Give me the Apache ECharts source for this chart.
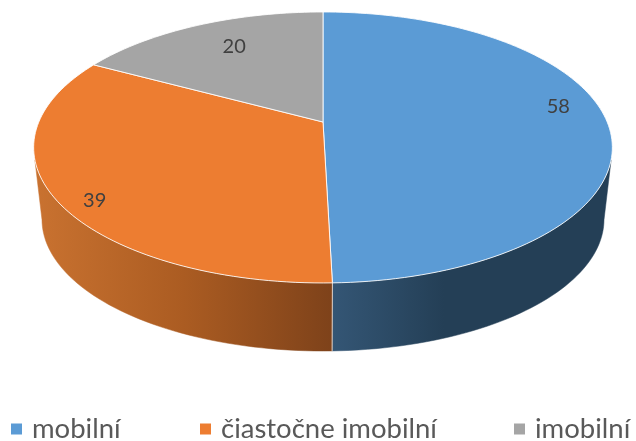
<!DOCTYPE html>
<html>
<head>
<meta charset="utf-8">
<style>html,body{margin:0;padding:0;background:#fff}#c{width:636px;height:441px}</style>
<script src="https://cdn.jsdelivr.net/npm/echarts@6/dist/echarts.min.js"></script>
</head>
<body>
<div id="c"></div>
<script>
const categories = ['mobilní', 'čiastočne imobilní', 'imobilní'];
const values = [58, 39, 20];
const colors = ['#5B9BD5', '#ED7D31', '#A5A5A5'];

// Projection of the tilted disc (perspective), and label placement
const FONT = 'Lato, "Open Sans", sans-serif';
const CX = 323, K = 0.188;
const TOP = { cy: 122, a: 284.2, b: 130.7 };
const BOTTOM = { cy: 194.6, a: 276, b: 127 };
const VISIBLE_TOP = [106, 254], VISIBLE_BOTTOM = [101, 259];
const LABEL_R = [0.83, 0.85, 0.71], LABEL_DY = [-14, 14, -7];
const SIDE_FILLS = [
  { x: 332, x2: 612, stops: [[0, '#345675'], [0.4, '#243F56'], [1, '#243F56']] },
  { x: 35, x2: 332, stops: [[0, '#C97230'], [0.5, '#AB5C22'], [1, '#7E421A']] },
  null
];

const total = values.reduce((s, v) => s + v, 0);
const rad = d => d * Math.PI / 180;
function project(deg, ring) {
  const u = Math.sin(rad(deg)), v = Math.cos(rad(deg)), w = 1 + K * v;
  return [CX + ring.a * u / w, ring.cy - ring.b * v / w];
}
function arc(from, to, ring) {
  const n = Math.max(2, Math.ceil(Math.abs(to - from) / 1.5)), pts = [];
  for (let i = 0; i <= n; i++) pts.push(project(from + (to - from) * i / n, ring));
  return pts;
}

function makeRender(index) {
  return function (params, api) {
    const before = values.slice(0, index).reduce((s, v) => s + v, 0);
    const start = 360 * before / total;
    const end = start + 360 * api.value(0) / total;
    const children = [];
    const fill = SIDE_FILLS[index];
    const t0 = Math.max(start, VISIBLE_TOP[0]), t1 = Math.min(end, VISIBLE_TOP[1]);
    const b0 = Math.max(start, VISIBLE_BOTTOM[0]), b1 = Math.min(end, VISIBLE_BOTTOM[1]);
    if (fill && t1 > t0 && b1 > b0) {
      const grad = {
        type: 'linear', x: fill.x, y: 0, x2: fill.x2, y2: 0, global: true,
        colorStops: fill.stops.map(s => ({ offset: s[0], color: s[1] }))
      };
      children.push({
        type: 'polygon', z2: 1,
        shape: { points: arc(t0, t1, TOP).concat(arc(b1, b0, BOTTOM)) },
        style: { fill: grad, stroke: grad, lineWidth: 0.5 }
      });
      // seam between the two front side walls
      if (index === 0) {
        const a = project(end, TOP), b = project(end, BOTTOM);
        children.push({
          type: 'line', z2: 2,
          shape: { x1: a[0], y1: a[1], x2: b[0], y2: b[1] },
          style: { stroke: 'rgba(255,255,255,0.75)', lineWidth: 1 }
        });
      }
    }
    children.push({
      type: 'polygon', z2: 5,
      shape: { points: [[CX, TOP.cy]].concat(arc(start, end, TOP)) },
      style: { fill: colors[index], stroke: 'rgba(255,255,255,0.85)', lineWidth: 1, lineJoin: 'round' }
    });
    const mid = (start + end) / 2, p = project(mid, TOP);
    children.push({
      type: 'text', z2: 10,
      style: {
        x: CX + (p[0] - CX) * LABEL_R[index],
        y: TOP.cy + (p[1] - TOP.cy) * LABEL_R[index] + LABEL_DY[index],
        text: String(api.value(0)), fill: '#404040',
        font: '20px ' + FONT, align: 'center', verticalAlign: 'middle'
      }
    });
    return { type: 'group', children };
  };
}

const legendLeft = [11, 200, 514];
const chart = echarts.init(document.getElementById('c'), null, { renderer: 'canvas' });
chart.setOption({
  animation: false,
  backgroundColor: '#fff',
  legend: categories.map((name, i) => ({
    data: [name], left: legendLeft[i], top: 415, icon: 'rect', itemWidth: 11, itemHeight: 11,
    selectedMode: false, itemGap: 0, padding: 0,
    textStyle: { fontFamily: FONT, fontSize: 27.5, color: '#595959', padding: [0, 0, 0, 5] }
  })),
  series: categories.map((name, i) => ({
    type: 'custom', name, coordinateSystem: 'none',
    itemStyle: { color: colors[i] },
    renderItem: makeRender(i),
    data: [[values[i]]],
    silent: true
  }))
});
</script>
</body>
</html>
